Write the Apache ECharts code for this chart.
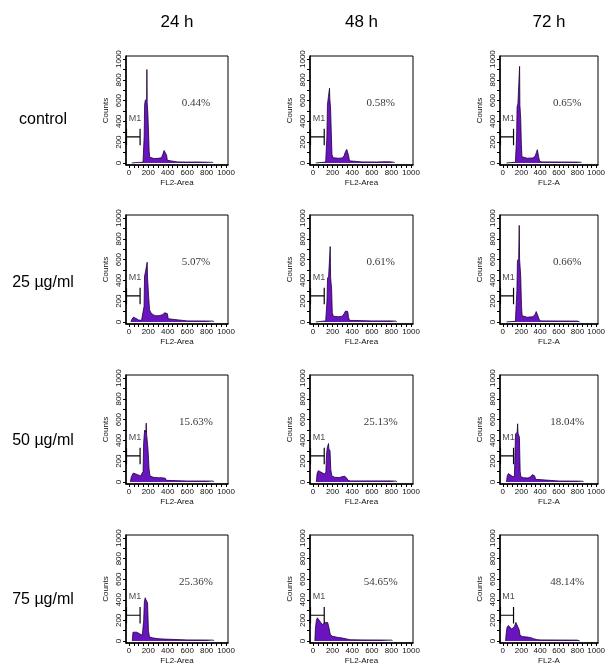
<!DOCTYPE html>
<html>
<head>
<meta charset="utf-8">
<script src="https://cdn.jsdelivr.net/npm/echarts@6/dist/echarts.min.js"></script>
<style>html,body{margin:0;padding:0;background:#fff;}#c{width:615px;height:668px;}</style>
</head>
<body>
<div id="c"></div>
<script>
// ---- data ----
const doses = ['control', '25 µg/ml', '50 µg/ml', '75 µg/ml'];
const times = ['24 h', '48 h', '72 h'];
const xAxisNames = ['FL2-Area', 'FL2-Area', 'FL2-A'];
const percents = [
  ['0.44%', '0.58%', '0.65%'],
  ['5.07%', '0.61%', '0.66%'],
  ['15.63%', '25.13%', '18.04%'],
  ['25.36%', '54.65%', '48.14%']
];
const xTickLabels = [0, 200, 400, 600, 800, 1000];
const yTickLabels = [0, 200, 400, 600, 800, 1000];
const xTicks = [0, 50, 100, 150, 200, 250, 300, 350, 400, 450, 500, 550, 600, 650, 700, 750, 800, 850, 900, 950, 1000];
const yTicks = [0, 100, 200, 300, 400, 500, 600, 700, 800, 900, 1000];
const m1Gate = [-25, 115];
const m1Level = 250;
const m1TickSpan = [170, 330];

// histograms: [FL2 channel, counts]
const ctl24 = [[30,0],[35,6],[100,5],[145,6],[152,20],[157,250],[162,560],[168,600],[178,590],[183,620],[185,900],[188,580],[195,480],[202,300],[208,120],[214,55],[225,48],[260,42],[300,44],[335,50],[350,85],[362,120],[372,135],[380,125],[388,75],[395,25],[405,12],[500,10],[600,8],[700,9],[800,7],[862,6],[866,0]];
const ctl48 = [[30,0],[35,8],[130,8],[137,20],[142,250],[148,560],[158,640],[166,650],[169,720],[172,620],[180,520],[188,260],[194,80],[205,50],[260,45],[300,48],[318,70],[332,110],[345,130],[356,120],[364,70],[372,20],[390,12],[500,10],[650,9],[750,12],[800,10],[830,6],[834,0]];
const ctl72 = [[40,0],[45,6],[135,6],[143,15],[148,250],[153,540],[162,570],[176,560],[180,930],[183,560],[192,420],[199,180],[205,60],[215,50],[260,45],[320,48],[345,62],[360,100],[370,128],[378,112],[386,50],[395,15],[420,10],[600,9],[800,8],[840,6],[844,0]];
const d25h24 = [[20,0],[28,20],[45,45],[70,35],[100,18],[130,15],[150,22],[156,150],[161,440],[172,490],[185,480],[188,575],[192,420],[202,260],[212,120],[222,95],[240,75],[270,60],[310,60],[345,70],[370,88],[385,95],[395,80],[405,30],[418,12],[600,10],[800,9],[870,8],[875,0]];
const d25h48 = [[30,0],[35,10],[130,10],[138,25],[143,200],[149,420],[160,440],[172,440],[176,726],[180,430],[190,320],[197,90],[207,55],[260,50],[300,55],[318,80],[332,105],[345,118],[355,100],[362,50],[372,15],[390,10],[600,10],[800,10],[848,8],[852,0]];
const d25h72 = [[40,0],[45,6],[135,6],[145,15],[151,300],[157,590],[170,610],[176,930],[180,600],[192,440],[200,160],[207,60],[217,50],[260,45],[320,50],[345,70],[358,100],[368,118],[376,100],[384,40],[395,12],[420,10],[600,9],[800,8],[820,6],[824,0]];
const d50h24 = [[15,0],[25,50],[45,85],[60,88],[90,70],[120,58],[140,50],[146,100],[152,380],[162,500],[175,480],[178,566],[182,460],[196,320],[207,130],[216,60],[250,45],[300,40],[340,40],[360,42],[375,35],[385,15],[400,10],[600,9],[800,9],[870,8],[875,0]];
const d50h48 = [[35,0],[42,80],[55,108],[70,100],[100,85],[126,75],[132,100],[138,260],[146,330],[156,340],[159,370],[162,320],[174,300],[182,120],[192,60],[220,45],[270,42],[295,50],[310,60],[325,55],[345,35],[358,15],[380,10],[600,10],[800,10],[850,8],[855,0]];
const d50h72 = [[40,0],[48,60],[60,80],[80,70],[100,55],[115,42],[124,50],[129,200],[136,460],[154,480],[159,560],[163,470],[178,430],[186,100],[194,50],[220,40],[270,38],[300,50],[315,70],[328,75],[340,60],[352,25],[365,10],[600,9],[800,8],[860,7],[864,0]];
const d75h24 = [[35,0],[42,85],[55,95],[80,85],[110,70],[138,55],[146,60],[152,200],[159,380],[168,420],[171,430],[176,400],[192,370],[201,100],[211,40],[240,30],[300,22],[340,20],[366,18],[380,10],[600,10],[800,9],[870,8],[875,0]];
const d75h48 = [[20,0],[25,120],[35,200],[45,225],[60,210],[80,180],[95,160],[110,170],[128,180],[143,195],[150,180],[165,120],[178,60],[200,45],[250,35],[300,28],[340,20],[380,12],[500,10],[700,9],[805,8],[810,0]];
const d75h72 = [[30,0],[35,60],[45,130],[60,150],[75,140],[95,115],[112,108],[125,140],[140,180],[150,190],[160,170],[175,110],[185,55],[210,42],[260,38],[300,32],[330,22],[360,14],[400,10],[600,9],[800,8],[820,6],[824,0]];

const histograms = [
  [ctl24, ctl48, ctl72],
  [d25h24, d25h48, d25h72],
  [d50h24, d50h48, d50h72],
  [d75h24, d75h48, d75h72]
];

// ---- layout ----
const colBox = [{left:126,width:102},{left:310,width:103},{left:500,width:98}];
const rowBox = [{top:56,height:109},{top:215,height:109},{top:375,height:109},{top:535,height:108}];
const rowLabelY = [120, 283, 441, 600];

const grids = [], xAxes = [], yAxes = [], series = [];
const fontSans = 'Liberation Sans, Arial, sans-serif';
const plain = v => String(v);
for (let r = 0; r < 4; r++) {
  for (let c = 0; c < 3; c++) {
    const gi = r * 3 + c;
    grids.push({left: colBox[c].left, top: rowBox[r].top, width: colBox[c].width, height: rowBox[r].height,
      show: true, borderColor: '#000', borderWidth: 1, backgroundColor: 'transparent'});
    xAxes.push({gridIndex: gi, type: 'value', min: -30, max: 1020,
      axisLine: {show: true, onZero: false, lineStyle: {color: '#000', width: 1.5}},
      axisTick: {show: true, length: 3, customValues: xTicks, lineStyle: {color: '#000', width: 1}},
      axisLabel: {customValues: xTickLabels, formatter: plain, fontSize: 8, color: '#111', margin: 4, fontFamily: fontSans},
      splitLine: {show: false},
      name: xAxisNames[c], nameLocation: 'middle', nameGap: 14,
      nameTextStyle: {fontSize: 8, color: '#111', fontFamily: fontSans}});
    yAxes.push({gridIndex: gi, type: 'value', min: -20, max: 1030,
      axisLine: {show: true, onZero: false, lineStyle: {color: '#000', width: 1.5}},
      axisTick: {show: true, length: 3, customValues: yTicks, lineStyle: {color: '#000', width: 1}},
      axisLabel: {customValues: yTickLabels, formatter: plain, fontSize: 8, color: '#111', margin: 3, rotate: 90, fontFamily: fontSans},
      splitLine: {show: false},
      name: 'Counts', nameLocation: 'middle', nameGap: 16, nameRotate: 90,
      nameTextStyle: {fontSize: 8, color: '#111', fontFamily: fontSans}});
    series.push({type: 'line', xAxisIndex: gi, yAxisIndex: gi, data: histograms[r][c],
      symbol: 'none', smooth: false, z: 3,
      lineStyle: {color: '#1a0033', width: 0.8},
      areaStyle: {color: '#6a14c0', opacity: 1}});
    series.push({type: 'line', xAxisIndex: gi, yAxisIndex: gi, symbol: 'none', z: 4,
      data: [[m1Gate[0], m1TickSpan[1]], [m1Gate[0], m1TickSpan[0]], [m1Gate[0], m1Level], [m1Gate[1], m1Level], [m1Gate[1], m1TickSpan[1]], [m1Gate[1], m1TickSpan[0]]],
      lineStyle: {color: '#000', width: 1.2}});
    series.push({type: 'scatter', xAxisIndex: gi, yAxisIndex: gi, symbolSize: 0, z: 5,
      data: [[62, 430]],
      label: {show: true, position: 'inside', formatter: 'M1', fontSize: 9, color: '#222', fontFamily: fontSans}});
    series.push({type: 'scatter', xAxisIndex: gi, yAxisIndex: gi, symbolSize: 0, z: 5,
      data: [[690, 575]],
      label: {show: true, position: 'inside', formatter: percents[r][c], fontSize: 11, color: '#000', fontFamily: 'Liberation Serif, Times New Roman, serif'}});
  }
}

const graphics = [];
times.forEach((t, c) => {
  graphics.push({type: 'text', x: colBox[c].left + colBox[c].width / 2, y: 22,
    style: {text: t, font: '17px Liberation Sans, Arial, sans-serif', fill: '#000', textAlign: 'center', textVerticalAlign: 'middle'}});
});
doses.forEach((d, r) => {
  graphics.push({type: 'text', x: 43, y: rowLabelY[r],
    style: {text: d, font: '16px Liberation Sans, Arial, sans-serif', fill: '#000', textAlign: 'center', textVerticalAlign: 'middle'}});
});

const chart = echarts.init(document.getElementById('c'), null, {renderer: 'canvas'});
chart.setOption({
  animation: false,
  backgroundColor: '#fff',
  grid: grids,
  xAxis: xAxes,
  yAxis: yAxes,
  series: series,
  graphic: graphics
});
</script>
</body>
</html>
